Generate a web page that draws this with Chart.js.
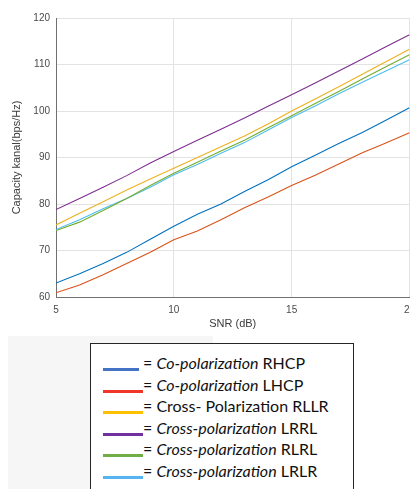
<!DOCTYPE html>
<html>
<head>
<meta charset="utf-8">
<script src="https://cdn.jsdelivr.net/npm/chart.js@4.4.1/dist/chart.umd.min.js"></script>
<style>
  html, body { margin: 0; padding: 0; background: #fff; }
  body { width: 410px; height: 489px; overflow: hidden; position: relative; }
  #plotWrap { position: absolute; left: 0; top: 0; width: 422px; height: 335px; }
  #shade { position: absolute; left: 8px; top: 336px; width: 205px; height: 160px; background: #f6f6f6; }
  #legendBox {
    position: absolute; left: 90px; top: 343px; width: 262px; height: 200px;
    border: 1.5px solid #262626; background: #fff;
    font-family: Lato, "Open Sans", sans-serif; font-size: 16px; color: #111;
  }
  .row { position: absolute; left: 0; width: 100%; height: 22px; }
  .swatch { position: absolute; left: 12px; height: 3px; }
  .txt { position: absolute; left: 52px; top: 0; line-height: 22px; white-space: nowrap; }
</style>
</head>
<body>
<div id="plotWrap"><canvas id="capChart" width="422" height="335"></canvas></div>
<div id="shade"></div>
<div id="legendBox"></div>
<script>
// SNR axis (dB)
const snr = [5, 6, 7, 8, 9, 10, 11, 12, 13, 14, 15, 16, 17, 18, 19, 20];

// channel capacity per polarization pair (bps/Hz)
const coRHCP   = [63.0, 65.0, 67.2, 69.6, 72.4, 75.2, 77.8, 80.0, 82.7, 85.2, 88.0, 90.5, 93.0, 95.4, 98.0, 100.7];
const coLHCP   = [60.9, 62.6, 64.8, 67.2, 69.6, 72.3, 74.2, 76.6, 79.2, 81.5, 84.0, 86.2, 88.6, 91.0, 93.1, 95.3];
const crossRLLR = [75.5, 78.0, 80.5, 83.0, 85.4, 87.7, 90.0, 92.3, 94.6, 97.2, 100.0, 102.6, 105.2, 107.9, 110.6, 113.3];
const crossLRRL = [78.8, 81.2, 83.6, 86.1, 88.8, 91.3, 93.7, 96.1, 98.5, 101.0, 103.5, 106.0, 108.6, 111.2, 113.8, 116.4];
const crossRLRL = [74.3, 76.1, 78.6, 81.2, 84.0, 86.6, 89.0, 91.4, 93.7, 96.4, 99.0, 101.6, 104.2, 106.9, 109.5, 112.1];
const crossLRLR = [74.5, 76.6, 79.0, 81.2, 83.6, 86.3, 88.5, 90.9, 93.2, 95.9, 98.6, 101.1, 103.7, 106.2, 108.6, 111.0];

const seriesData = [coRHCP, coLHCP, crossRLLR, crossLRRL, crossRLRL, crossLRLR];
const lineColors = ['#0072BD', '#D95319', '#EDB120', '#7E2F8E', '#77AC30', '#4DBEEE'];

// legend text: italic part + plain part
const legendItalic = ['Co-polarization', 'Co-polarization', '', 'Cross-polarization', 'Cross-polarization', 'Cross-polarization'];
const legendPlain  = ['RHCP', 'LHCP', 'Cross- Polarization RLLR', 'LRRL', 'RLRL', 'LRLR'];
const legendColors = ['#4472C4', '#F0362A', '#FFC000', '#7030A0', '#70AD47', '#56B4F0'];

const yTicks = [60, 70, 80, 90, 100, 110, 120];
const xTicks = [5, 10, 15, 20];

const tickFont = { family: '"Liberation Sans", Arial, sans-serif', size: 10 };
const titleFont = { family: '"Liberation Sans", Arial, sans-serif', size: 11 };

const datasets = seriesData.map((vals, i) => ({
    label: (legendItalic[i] + ' ' + legendPlain[i]).trim(),
    data: snr.map((x, j) => ({ x: x, y: vals[j] })),
    borderColor: lineColors[i],
    backgroundColor: lineColors[i],
    borderWidth: 1.1,
    pointRadius: 0,
    tension: 0,
    fill: false
}));

new Chart(document.getElementById('capChart'), {
    type: 'line',
    data: { datasets: datasets },
    options: {
        responsive: false,
        animation: false,
        layout: { padding: { top: 18, left: 0, right: 0, bottom: 0 } },
        plugins: { legend: { display: false }, tooltip: { enabled: false } },
        scales: {
            x: {
                type: 'linear',
                min: xTicks[0],
                max: xTicks[xTicks.length - 1],
                afterBuildTicks: (s) => { s.ticks = xTicks.map(v => ({ value: v })); },
                afterFit: (s) => { s.height = 38; },
                ticks: { font: tickFont, color: '#4a4a4a', padding: 7, maxRotation: 0 },
                grid: { color: '#e3e3e3', drawTicks: false },
                border: { color: '#707070' },
                title: { display: true, text: 'SNR (dB)', font: titleFont, color: '#3a3a3a', padding: { top: 0, bottom: 4 } }
            },
            y: {
                min: yTicks[0],
                max: yTicks[yTicks.length - 1],
                afterBuildTicks: (s) => { s.ticks = yTicks.map(v => ({ value: v })); },
                afterFit: (s) => { s.width = 56; },
                ticks: { font: tickFont, color: '#4a4a4a', padding: 6 },
                grid: { color: '#e3e3e3', drawTicks: false },
                border: { color: '#707070' },
                title: { display: true, text: 'Capacity kanal(bps/Hz)', font: titleFont, color: '#3a3a3a', padding: { top: 10, bottom: 0 } }
            }
        }
    }
});

// legend box
const box = document.getElementById('legendBox');
legendPlain.forEach((plain, i) => {
    const row = document.createElement('div');
    row.className = 'row';
    row.style.top = (8 + i * 21.6) + 'px';
    const sw = document.createElement('div');
    sw.className = 'swatch';
    sw.style.top = '16px';
    sw.style.width = (i === 0 ? 36 : 40) + 'px';
    sw.style.background = legendColors[i];
    const txt = document.createElement('div');
    txt.className = 'txt';
    txt.innerHTML = '= ' + (legendItalic[i] ? '<i>' + legendItalic[i] + '</i> ' : '') + plain;
    row.appendChild(sw);
    row.appendChild(txt);
    box.appendChild(row);
});
</script>
</body>
</html>
